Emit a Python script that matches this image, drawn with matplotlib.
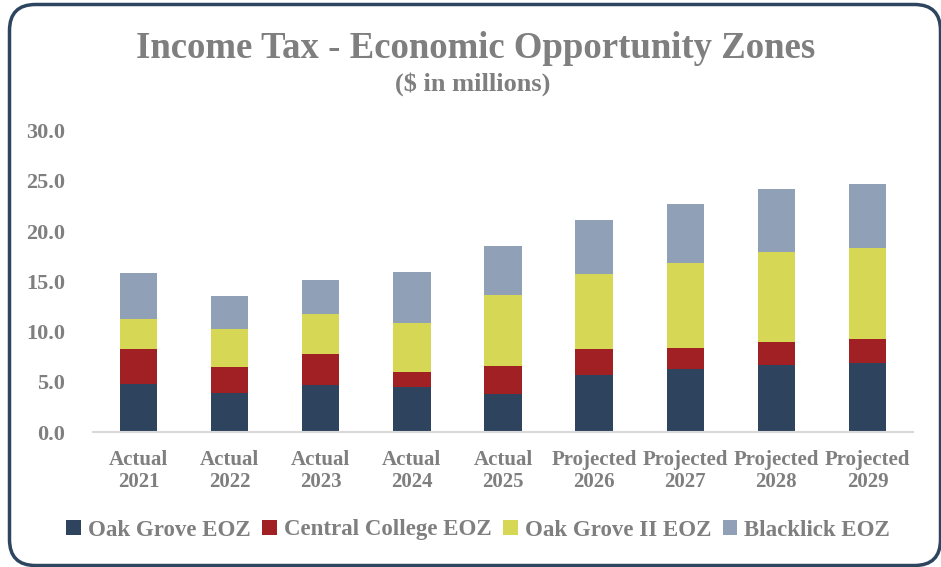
import matplotlib
matplotlib.use("Agg")
import matplotlib.pyplot as plt
import numpy as np
from matplotlib.patches import FancyBboxPatch, Patch
from matplotlib.transforms import IdentityTransform

# values ($ in millions)
years = ["Actual\n2021", "Actual\n2022", "Actual\n2023", "Actual\n2024", "Actual\n2025",
         "Projected\n2026", "Projected\n2027", "Projected\n2028", "Projected\n2029"]
oak_grove = [4.8, 3.9, 4.7, 4.5, 3.8, 5.7, 6.3, 6.7, 6.9]
central_college = [3.5, 2.6, 3.1, 1.5, 2.8, 2.6, 2.1, 2.3, 2.4]
oak_grove_ii = [2.9, 3.7, 3.9, 4.8, 7.0, 7.4, 8.4, 8.9, 9.0]
blacklick = [4.6, 3.3, 3.4, 5.1, 4.9, 5.4, 5.9, 6.3, 6.4]

series_names = ["Oak Grove EOZ", "Central College EOZ", "Oak Grove II EOZ", "Blacklick EOZ"]
colors = ["#2D435E", "#A02024", "#D7D756", "#8FA0B7"]
gray = "#7F7F7F"

plt.rcParams['font.family'] = ['Liberation Serif', 'DejaVu Serif']
plt.rcParams['font.weight'] = 'bold'

fig = plt.figure(figsize=(9.41, 5.67), dpi=100)
ax = fig.add_axes([93 / 941, 135 / 567, 820 / 941, 301.5 / 567])

x = np.arange(len(years))
bottom = np.zeros(len(years))
for vals, col in zip([oak_grove, central_college, oak_grove_ii, blacklick], colors):
    ax.bar(x, vals, width=0.41, bottom=bottom, color=col, zorder=2)
    bottom += np.array(vals)

ax.set_xlim(-0.5, 8.5)
ax.set_ylim(0, 30)
ax.set_yticks(np.arange(0, 31, 5))
ax.set_yticklabels([f"{v:.1f}" for v in np.arange(0, 31, 5)])
ax.set_xticks(x)
ax.set_xticklabels(years, linespacing=1.1)
ax.tick_params(axis='y', length=0, pad=20, labelsize=16, labelcolor=gray)
ax.tick_params(axis='x', length=0, pad=13, labelsize=15, labelcolor=gray)
for s in ['top', 'right', 'left']:
    ax.spines[s].set_visible(False)
ax.spines['bottom'].set_color('#D9D9D9')
ax.spines['bottom'].set_linewidth(1.5)

fig.text(0.505, 1 - 48 / 567, "Income Tax - Economic Opportunity Zones",
         ha='center', va='center', fontsize=26.5, color=gray, fontweight='bold')
fig.text(0.502, 1 - 84 / 567, "($ in millions)",
         ha='center', va='center', fontsize=19, color=gray, fontweight='bold')

handles = [Patch(facecolor=c, edgecolor='none') for c in colors]
fig.legend(handles, series_names, loc='center', bbox_to_anchor=(0.508, 1 - 530 / 567),
           ncol=4, frameon=False, fontsize=16.5, labelcolor=gray,
           handlelength=0.65, handleheight=0.65, handletextpad=0.3, columnspacing=0.5)

border = FancyBboxPatch((9.5, 1.5), 931, 561, boxstyle="round,pad=0,rounding_size=26",
                        transform=IdentityTransform(), facecolor='none',
                        edgecolor='#2E4560', linewidth=2.5)
fig.patches.append(border)

fig.savefig("out.png", dpi=100)
